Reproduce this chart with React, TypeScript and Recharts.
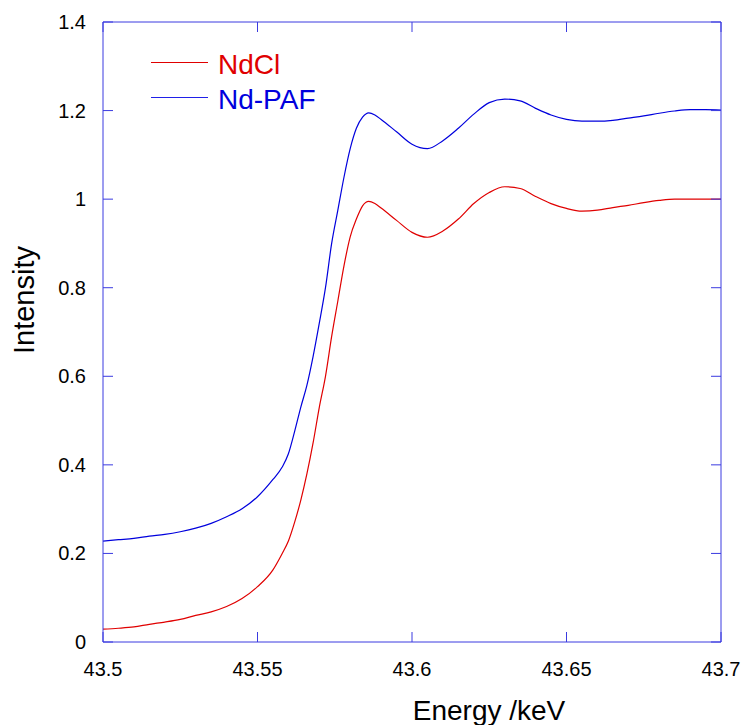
import { LineChart, Line, XAxis, YAxis } from 'recharts';

const energy = [
  43.5, 43.505, 43.51, 43.515, 43.52, 43.525, 43.53, 43.535, 43.54, 43.545,
  43.55, 43.555, 43.558, 43.56, 43.562, 43.564, 43.566, 43.568, 43.57, 43.572,
  43.574, 43.576, 43.578, 43.58, 43.582, 43.584, 43.586, 43.588, 43.59, 43.595,
  43.6, 43.605, 43.61, 43.615, 43.62, 43.625, 43.63, 43.635, 43.64, 43.645,
  43.65, 43.655, 43.66, 43.665, 43.67, 43.675, 43.68, 43.685, 43.69, 43.695, 43.7,
];

const ndcl = [
  0.029, 0.031, 0.034, 0.04, 0.045, 0.051, 0.06, 0.068, 0.08, 0.098,
  0.125, 0.163, 0.2, 0.228, 0.27, 0.32, 0.38, 0.45, 0.53, 0.6,
  0.69, 0.77, 0.85, 0.915, 0.955, 0.985, 0.995, 0.99, 0.98, 0.952,
  0.925, 0.914, 0.928, 0.955, 0.99, 1.015, 1.028, 1.024, 1.006, 0.99,
  0.979, 0.973, 0.975, 0.981, 0.986, 0.992, 0.997, 1.0, 1.0, 1.0, 1.0,
];

const ndPaf = [
  0.228, 0.231, 0.234, 0.239, 0.243, 0.249, 0.257, 0.268, 0.283, 0.301,
  0.328, 0.367, 0.395, 0.425, 0.475, 0.53, 0.58, 0.645, 0.72, 0.8,
  0.9, 0.975, 1.05, 1.114, 1.16, 1.185, 1.195, 1.19, 1.18, 1.152,
  1.124, 1.114, 1.132, 1.16, 1.192, 1.218, 1.226, 1.222, 1.205, 1.19,
  1.18, 1.176, 1.176, 1.178, 1.183, 1.188, 1.194, 1.199, 1.202, 1.202, 1.201,
];

const xTicks = [43.5, 43.55, 43.6, 43.65, 43.7];
const yTicks = [0, 0.2, 0.4, 0.6, 0.8, 1, 1.2, 1.4];

const seriesNames = ['NdCl', 'Nd-PAF'];

const data = energy.map((e, i) => ({ e, ndcl: ndcl[i], ndPaf: ndPaf[i] }));

const FONT = "Arial, 'Liberation Sans', sans-serif";
const FRAME = '#3a3ae0';
const RED = '#e00000';
const BLUE = '#0000dd';

const BottomTick = ({ x, y, payload }: any) => (
  <g>
    <line x1={x} y1={y} x2={x} y2={y - 10} stroke={FRAME} strokeWidth={1} />
    <text x={x} y={y + 34} textAnchor="middle" fontSize={20} fontFamily={FONT} fill="#000">
      {String(payload.value)}
    </text>
  </g>
);

const TopTick = ({ x, y }: any) => (
  <line x1={x} y1={y} x2={x} y2={y + 10} stroke={FRAME} strokeWidth={1} />
);

const LeftTick = ({ x, y, payload }: any) => (
  <g>
    <line x1={x} y1={y} x2={x + 10} y2={y} stroke={FRAME} strokeWidth={1} />
    <text x={x - 17} y={y + 7} textAnchor="end" fontSize={20} fontFamily={FONT} fill="#000">
      {String(payload.value)}
    </text>
  </g>
);

const RightTick = ({ x, y }: any) => (
  <line x1={x} y1={y} x2={x - 10} y2={y} stroke={FRAME} strokeWidth={1} />
);

// legend drawn as an overlay so it takes no room from the plot
function LegendBox() {
  const colors = [RED, '#2020e8'];
  return (
    <div style={{ position: 'absolute', left: 151, top: 47, fontFamily: FONT, fontSize: 28 }}>
      {seriesNames.map((name, i) => (
        <div key={name} style={{ display: 'flex', alignItems: 'center', height: 35 }}>
          <div style={{ width: 57, height: 1, background: colors[i], marginRight: 10, marginTop: -4 }} />
          <span style={{ color: i === 0 ? RED : BLUE, lineHeight: '35px' }}>{name}</span>
        </div>
      ))}
    </div>
  );
}

export default function App() {
  return (
    <div style={{ position: 'absolute', left: 0, top: 0, width: 745, height: 725, background: '#fff' }}>
      <LineChart
        width={745}
        height={725}
        data={data}
        margin={{ top: 21, right: 23, left: 23, bottom: 23 }}
      >
        <XAxis
          dataKey="e"
          type="number"
          domain={[43.5, 43.7]}
          ticks={xTicks}
          allowDataOverflow
          height={60}
          stroke={FRAME}
          tickLine={false}
          tickSize={0}
          tickMargin={0}
          tick={<BottomTick />}
          interval={0}
          label={{
            content: () => (
              <text x={489} y={720} textAnchor="middle" fontSize={28} fontFamily={FONT} fill="#000">
                Energy /keV
              </text>
            ),
          }}
        />
        <XAxis
          xAxisId="top"
          dataKey="e"
          type="number"
          orientation="top"
          domain={[43.5, 43.7]}
          ticks={xTicks}
          allowDataOverflow
          height={1}
          stroke={FRAME}
          tickLine={false}
          tickSize={0}
          tickMargin={0}
          tick={<TopTick />}
          interval={0}
        />
        <YAxis
          type="number"
          domain={[0, 1.4]}
          ticks={yTicks}
          allowDataOverflow
          width={80}
          stroke={FRAME}
          tickLine={false}
          tickSize={0}
          tickMargin={0}
          tick={<LeftTick />}
          interval={0}
          label={{
            content: () => (
              <text
                x={34}
                y={300}
                transform="rotate(-90 34 300)"
                textAnchor="middle"
                fontSize={29}
                fontFamily={FONT}
                fill="#000"
              >
                Intensity
              </text>
            ),
          }}
        />
        <YAxis
          yAxisId="right"
          type="number"
          orientation="right"
          domain={[0, 1.4]}
          ticks={yTicks}
          allowDataOverflow
          width={1}
          stroke={FRAME}
          tickLine={false}
          tickSize={0}
          tickMargin={0}
          tick={<RightTick />}
          interval={0}
        />
        <Line
          type="monotone"
          dataKey="ndcl"
          name={seriesNames[0]}
          stroke={RED}
          strokeWidth={1.2}
          dot={false}
          isAnimationActive={false}
        />
        <Line
          type="monotone"
          dataKey="ndPaf"
          name={seriesNames[1]}
          stroke={BLUE}
          strokeWidth={1.2}
          dot={false}
          isAnimationActive={false}
        />
      </LineChart>
      <LegendBox />
    </div>
  );
}
